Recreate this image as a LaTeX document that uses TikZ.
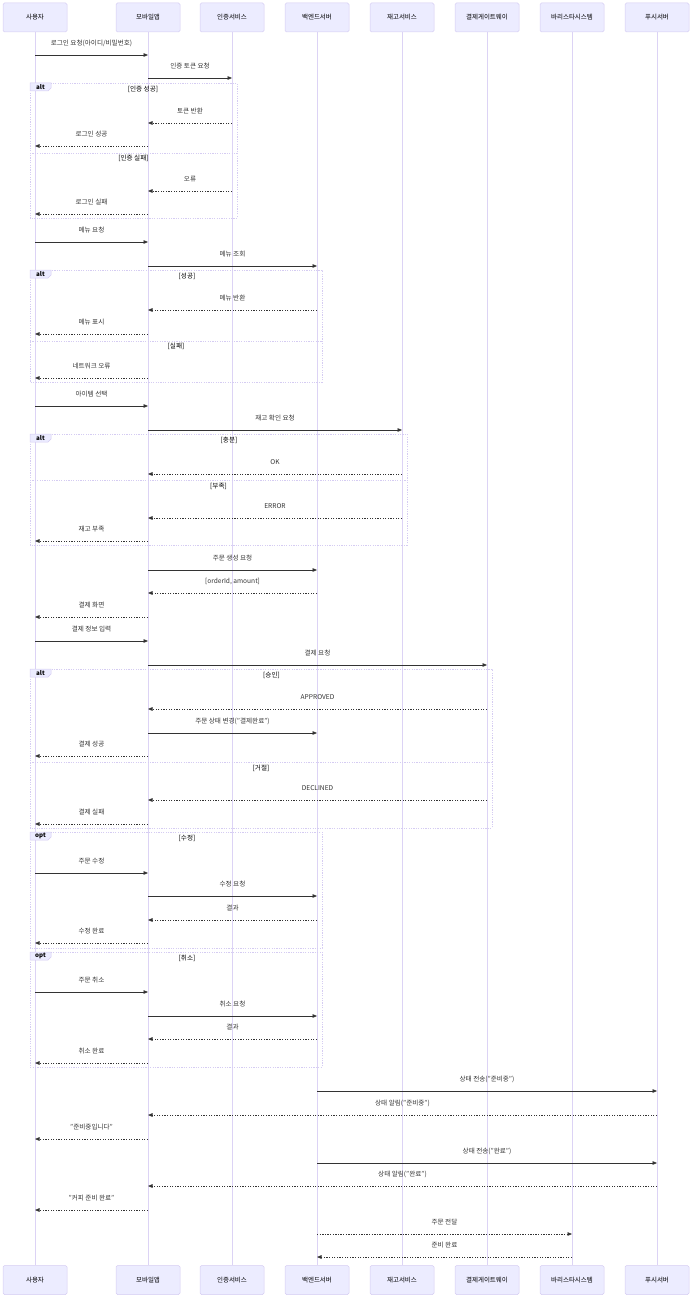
\documentclass[tikz,border=0pt]{standalone}
\usepackage{fontspec}
\setmainfont{Noto Sans CJK KR}
\usetikzlibrary{arrows.meta}
\definecolor{actfill}{HTML}{ECECFF}
\definecolor{actbord}{HTML}{D5CCF2}
\definecolor{lifec}{HTML}{DCD3F5}
\definecolor{sigc}{HTML}{333333}
\newcommand\mmsg[5]{\draw[#5] (#1 |- 0,-#3) -- node[lbl]{#4} (#2 |- 0,-#3);}
\begin{document}
\begin{tikzpicture}[x=1pt,y=1pt,
  actor/.style={draw=actbord, fill=actfill, line width=0.5pt, rounded corners=1.5pt,
    minimum width=64pt, minimum height=29pt, inner sep=0pt,
    font=\fontsize{6.5}{7}\selectfont, text=black},
  lifeline/.style={draw=lifec, line width=0.7pt},
  sol/.style={draw=sigc, line width=0.7pt, -{Triangle[length=4.5pt,width=3.6pt]}},
  dot/.style={sol, dash pattern=on 1.3pt off 1.3pt},
  lbl/.style={font=\fontsize{6.6}{7}\selectfont, text=sigc, yshift=11.8pt, inner sep=0pt},
  frame/.style={draw=actbord, line width=0.6pt, dash pattern=on 1.2pt off 1.2pt},
  cond/.style={font=\fontsize{6.6}{7}\selectfont, text=black, inner sep=0pt},
  tagbox/.style={fill=actfill, draw=actbord, line width=0.5pt},
  tagtxt/.style={font=\bfseries\fontsize{6.2}{7}\selectfont, text=black, inner sep=0pt}]
\useasboundingbox (0,0) rectangle (691,-1300);
% participants
\foreach \n/\x/\t in {U/35/사용자, A/148/모바일앱, AU/232/인증서비스, B/317/백엔드서버,
  S/402/재고서비스, P/487/결제게이트웨이, BA/572/바리스타시스템, PU/657/푸시서버}{
  \node[actor] (\n) at (\x,-17.5) {\t};
  \node[actor] (\n b) at (\x,-1280) {\t};
  \draw[lifeline] (\n.south) -- (\n b.north);
}
% frames
\draw[frame] (30,-83) rectangle (237,-218); \draw[frame] (30,-153) -- (237,-153);
\draw[frame] (30,-270) rectangle (322,-382); \draw[frame] (30,-341) -- (322,-341);
\draw[frame] (30,-434) rectangle (407,-545); \draw[frame] (30,-480) -- (407,-480);
\draw[frame] (30,-669) rectangle (492,-828); \draw[frame] (30,-762) -- (492,-762);
\draw[frame] (30,-832) rectangle (322,-948);
\draw[frame] (30,-952) rectangle (322,-1067);
\foreach \y/\t in {83/alt, 270/alt, 434/alt, 669/alt, 832/opt, 952/opt}{
  \filldraw[tagbox] (30,-\y) -- (51,-\y) -- (51,-\y-5) -- (48,-\y-8) -- (30,-\y-8) -- cycle;
  \node[tagtxt] at (40.5,-\y-4) {\t};
}
\node[cond] (c1) at (143,-89) {[인증 성공]};
\node[cond] (c2) at (133.5,-158) {[인증 실패]};
\node[cond] (c3) at (187,-276) {[성공]};
\node[cond] (c4) at (176,-346) {[실패]};
\node[cond] (c5) at (229,-440) {[충분]};
\node[cond] (c6) at (218.5,-486) {[부족]};
\node[cond] (c7) at (271.5,-675) {[승인]};
\node[cond] (c8) at (261,-768) {[거절]};
\node[cond] (c9) at (187,-838) {[수정]};
\node[cond] (c10) at (187,-958) {[취소]};
% messages
\mmsg{U}{A}{55}{로그인 요청(아이디/비밀번호)}{sol}
\mmsg{A}{AU}{78}{인증 토큰 요청}{sol}
\mmsg{AU}{A}{123}{토큰 반환}{dot}
\mmsg{A}{U}{146}{로그인 성공}{dot}
\mmsg{AU}{A}{191}{오류}{dot}
\mmsg{A}{U}{214}{로그인 실패}{dot}
\mmsg{U}{A}{242}{메뉴 요청}{sol}
\mmsg{A}{B}{266}{메뉴 조회}{sol}
\mmsg{B}{A}{310}{메뉴 반환}{dot}
\mmsg{A}{U}{334}{메뉴 표시}{dot}
\mmsg{A}{U}{378}{네트워크 오류}{dot}
\mmsg{U}{A}{406}{아이템 선택}{sol}
\mmsg{A}{S}{430}{재고 확인 요청}{sol}
\mmsg{S}{A}{474}{OK}{dot}
\mmsg{S}{A}{518}{ERROR}{dot}
\mmsg{A}{U}{541}{재고 부족}{dot}
\mmsg{A}{B}{570}{주문 생성 요청}{sol}
\mmsg{B}{A}{593}{[orderId, amount]}{dot}
\mmsg{A}{U}{617}{결제 화면}{dot}
\mmsg{U}{A}{641}{결제 정보 입력}{sol}
\mmsg{A}{P}{665}{결제 요청}{sol}
\mmsg{P}{A}{709}{APPROVED}{dot}
\mmsg{A}{B}{733}{주문 상태 변경("결제완료")}{sol}
\mmsg{A}{U}{756}{결제 성공}{dot}
\mmsg{P}{A}{800}{DECLINED}{dot}
\mmsg{A}{U}{824}{결제 실패}{dot}
\mmsg{U}{A}{873}{주문 수정}{sol}
\mmsg{A}{B}{896}{수정 요청}{sol}
\mmsg{B}{A}{920}{결과}{dot}
\mmsg{A}{U}{943}{수정 완료}{dot}
\mmsg{U}{A}{992}{주문 취소}{sol}
\mmsg{A}{B}{1016}{취소 요청}{sol}
\mmsg{B}{A}{1039}{결과}{dot}
\mmsg{A}{U}{1063}{취소 완료}{dot}
\mmsg{B}{PU}{1091}{상태 전송("준비중")}{sol}
\mmsg{PU}{A}{1115}{상태 알림("준비중")}{dot}
\mmsg{A}{U}{1139}{"준비중입니다"}{dot}
\mmsg{B}{PU}{1163}{상태 전송("완료")}{sol}
\mmsg{PU}{A}{1186}{상태 알림("완료")}{dot}
\mmsg{A}{U}{1210}{"커피 준비 완료"}{dot}
\mmsg{B}{BA}{1234}{주문 전달}{dot}
\mmsg{BA}{B}{1257}{준비 완료}{dot}
\end{tikzpicture}
\end{document}
